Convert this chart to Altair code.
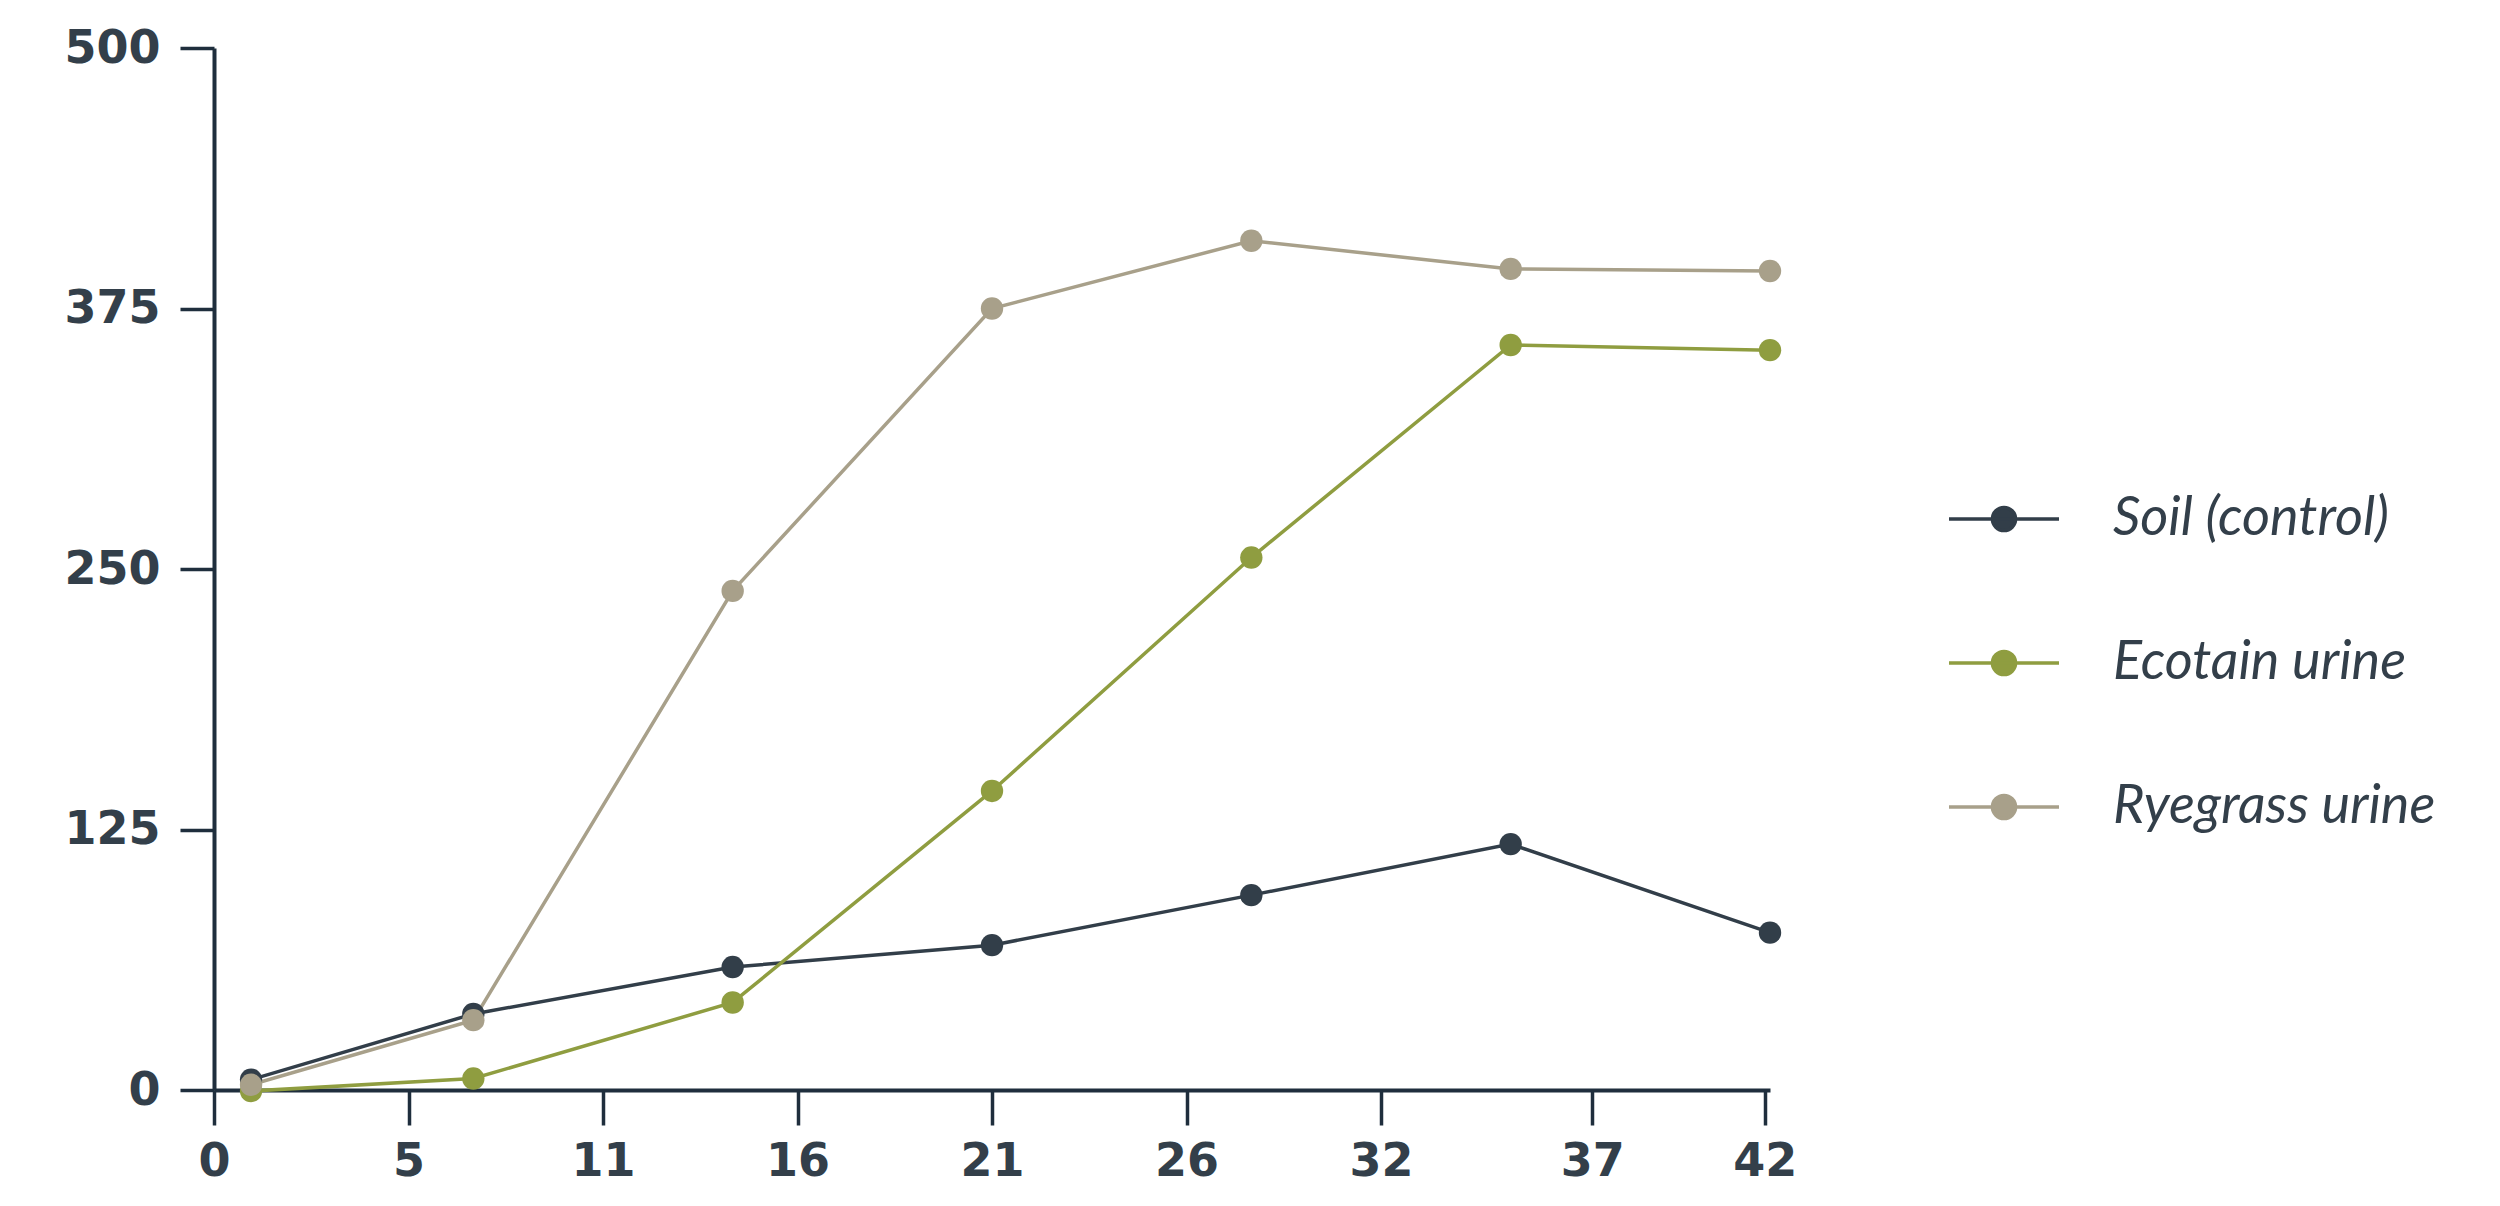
import altair as alt
import pandas as pd

# ---- data ----
days = [1, 7, 14, 21, 28, 35, 42]
series_names = ["Soil (control)", "Ecotain urine", "Ryegrass urine"]
soil = [5, 36.5, 59, 69.5, 93.5, 118, 75.5]
ecotain = [-0.5, 5.5, 42, 143.5, 255.5, 357.5, 355]
ryegrass = [2.5, 33.5, 239.5, 375, 407.5, 394, 393]
colors = ["#323e49", "#8f9d40", "#a8a08a"]

x_tick_values = [0, 5.25, 10.5, 15.75, 21, 26.25, 31.5, 37.2, 41.86]
y_tick_values = [0, 125, 250, 375, 500]

rows = []
for name, vals in zip(series_names, [soil, ecotain, ryegrass]):
    for d, v in zip(days, vals):
        rows.append({"day": d, "value": v, "series": name})
df = pd.DataFrame(rows)

AXIS_COLOR = "#1f2e3d"
LABEL_COLOR = "#333f4a"

legend_path = ("M-1,0H1M-0.21,0A0.21,0.21 0 1,0 0.21,0"
               "A0.21,0.21 0 1,0 -0.21,0Z")

color = alt.Color(
    "series:N",
    sort=series_names,
    scale=alt.Scale(domain=series_names, range=colors),
    legend=alt.Legend(
        title=None,
        orient="none",
        legendX=1733,
        legendY=414,
        padding=0,
        symbolType=legend_path,
        symbolSize=12100,
        symbolStrokeWidth=3.5,
        symbolOpacity=1,
        labelFont="Lato",
        labelFontStyle="italic",
        labelFontWeight=400,
        labelFontSize=54,
        labelColor=LABEL_COLOR,
        labelOffset=52,
        rowPadding=60,
        labelLimit=700,
    ),
)

x = alt.X(
    "day:Q",
    scale=alt.Scale(domain=[0, 42], nice=False, zero=False),
    axis=alt.Axis(
        values=x_tick_values,
        format=".0f",
        title=None,
        grid=False,
        tickSize=35,
        tickWidth=3.5,
        tickColor=AXIS_COLOR,
        domainColor=AXIS_COLOR,
        domainWidth=4,
        labelFont="DejaVu Sans",
        labelFontWeight="bold",
        labelFontSize=46,
        labelColor=LABEL_COLOR,
        labelPadding=14,
        labelOverlap=False,
        labelFlush=False,
    ),
)

y = alt.Y(
    "value:Q",
    scale=alt.Scale(domain=[0, 500], nice=False),
    axis=alt.Axis(
        values=y_tick_values,
        title=None,
        grid=False,
        tickSize=34,
        tickWidth=3.5,
        tickColor=AXIS_COLOR,
        domainColor=AXIS_COLOR,
        domainWidth=4,
        labelFont="DejaVu Sans",
        labelFontWeight="bold",
        labelFontSize=46,
        labelColor=LABEL_COLOR,
        labelPadding=20,
        labelOverlap=False,
    ),
)

base = alt.Chart(df)
lines = base.mark_line(strokeWidth=3.5).encode(x=x, y=y, color=color)
points = base.mark_circle(size=500, opacity=1).encode(x=x, y=y, color=color)

chart = (
    alt.layer(lines, points)
    .properties(
        width=1556,
        height=1042,
        padding={"left": 206, "top": 40, "right": 680, "bottom": 110},
        autosize=alt.AutoSizeParams(type="none"),
        background="white",
    )
    .configure_view(stroke=None)
)

chart.save("out.html", embed_options={"renderer": "svg", "actions": False})
